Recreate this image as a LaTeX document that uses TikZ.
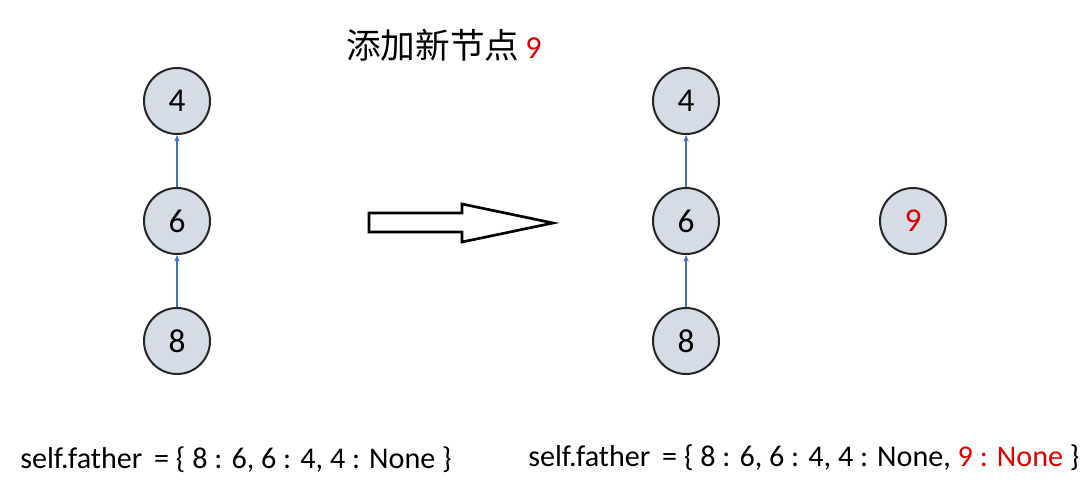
\documentclass[tikz,border=0pt]{standalone}
\usepackage{fontspec}
\setmainfont{Carlito}
\newfontfamily\cjk{Noto Sans CJK SC}
\definecolor{nodefill}{HTML}{D6DCE5}
\definecolor{linkblue}{HTML}{4472C4}
\definecolor{hlred}{HTML}{E00000}
\usetikzlibrary{arrows.meta}
\begin{document}
\begin{tikzpicture}[x=0.75pt,y=-0.75pt,
  vnode/.style={circle,draw=black!85,line width=1.5pt,fill=nodefill,minimum size=66*0.75pt,inner sep=0pt,font=\fontsize{25}{28}\selectfont},
  link/.style={draw=linkblue,line width=0.8pt,-{Stealth[length=5pt,width=4pt]}},
  dict/.style={anchor=west,inner sep=0pt,font=\fontsize{22.6}{26}\selectfont}]
\useasboundingbox (0,0) rectangle (1088,494);
% left tree
\node[vnode] (l4) at (177,101) {4};
\node[vnode] (l6) at (177,221) {6};
\node[vnode] (l8) at (177,341) {8};
\draw[link] (l8) -- (l6);
\draw[link] (l6) -- (l4);
% right tree
\node[vnode] (r4) at (686,101) {4};
\node[vnode] (r6) at (686,221) {6};
\node[vnode] (r8) at (686,341) {8};
\node[vnode,text=hlred] (r9) at (913,221) {9};
\draw[link] (r8) -- (r6);
\draw[link] (r6) -- (r4);
% title
\node[anchor=west,inner sep=0pt] (title) at (346,45) {\fontsize{26}{30}\selectfont\cjk 添加新节点\,\textcolor{hlred}{\fontsize{24}{28}\selectfont\rmfamily 9}};
% big arrow
\draw[line width=2pt,line join=miter] (369,213) -- (462,213) -- (462,204) -- (553,223) -- (462,242) -- (462,232) -- (369,232) -- cycle;
% dicts
\node[dict] (dl) at (20,460) {self.father \,= \{ 8 : 6, 6 : 4, 4 : None \}};
\node[dict] (dr) at (528,458) {self.father \,= \{ 8 : 6, 6 : 4, 4 : None, \textcolor{hlred}{9 : None} \}};
\end{tikzpicture}
\end{document}
